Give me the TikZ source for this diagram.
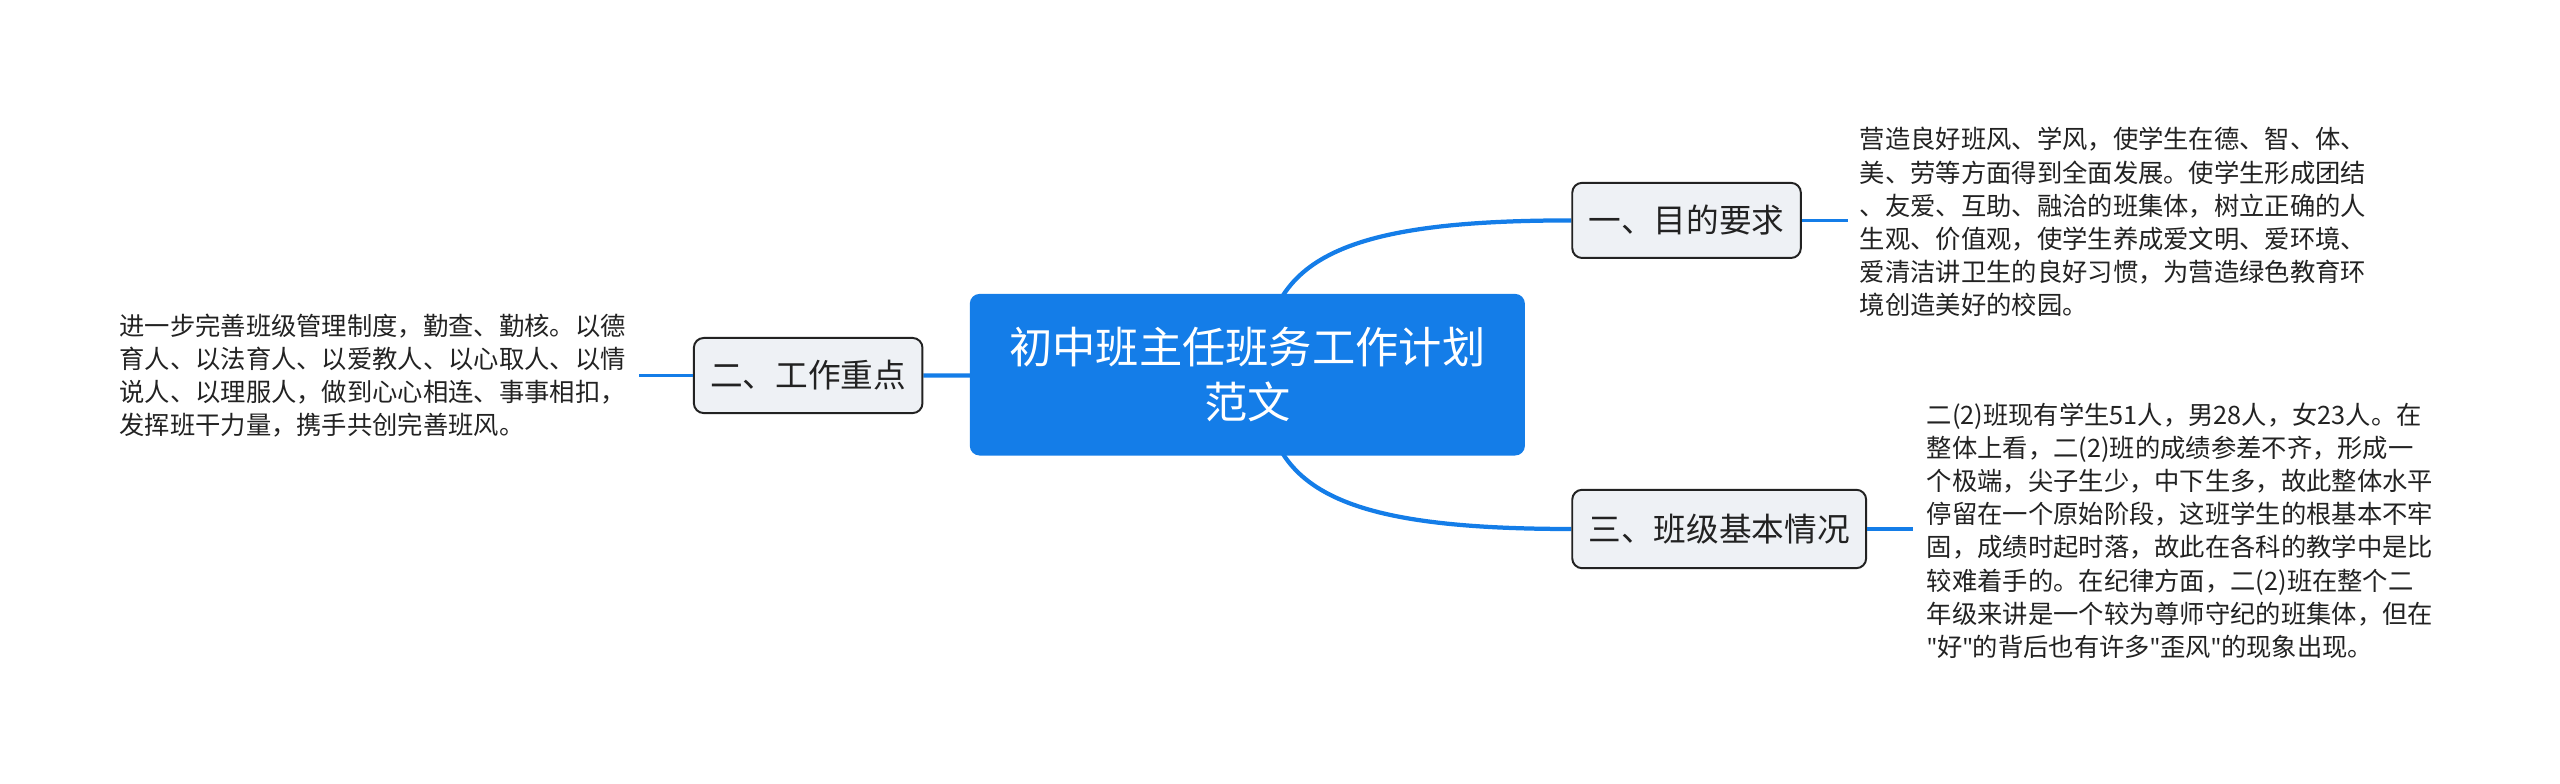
\documentclass[tikz,border=0pt]{standalone}
\usepackage{fontspec}
\setmainfont{Noto Sans CJK SC}
\newfontfamily\quotefont{Noto Sans}
\newcommand{\sq}{{\quotefont\symbol{34}}}
\usetikzlibrary{backgrounds}
\definecolor{mainblue}{RGB}{20,125,232}
\definecolor{boxfill}{RGB}{238,241,245}
\definecolor{txt}{RGB}{34,34,34}
\tikzset{
  centralbox/.style={fill=mainblue, rounded corners=6pt, minimum width=340pt, minimum height=99pt,
    text=white, align=center, inner sep=0pt, font=\fontsize{26.5pt}{34pt}\selectfont},
  branchbox/.style={fill=boxfill, draw=txt, line width=1.2pt, rounded corners=6pt, minimum height=46pt,
    text=txt, inner sep=0pt, font=\fontsize{20pt}{24pt}\selectfont},
  detail/.style={text=txt, align=left, inner sep=0pt, anchor=west, font=\fontsize{15.5pt}{20.3pt}\selectfont},
  mainlink/.style={draw=mainblue, line width=2.6pt},
  sublink/.style={draw=mainblue, line width=2pt},
}
\begin{document}
\begin{tikzpicture}[x=1pt,y=-1pt]
\useasboundingbox (0,0) rectangle (1568,480);
\node[centralbox] (c) at (764,229.5) {初中班主任班务工作计划\\范文};
\node[branchbox, minimum width=140pt] (b1) at (1033,135) {一、目的要求};
\node[branchbox, minimum width=180pt, minimum height=48pt] (b3) at (1053,324) {三、班级基本情况};
\node[branchbox, minimum width=140pt] (b2) at (495,230) {二、工作重点};
\node[detail] (t1) at (1139,136) {营造良好班风、学风，使学生在德、智、体、\\美、劳等方面得到全面发展。使学生形成团结\\、友爱、互助、融洽的班集体，树立正确的人\\生观、价值观，使学生养成爱文明、爱环境、\\爱清洁讲卫生的良好习惯，为营造绿色教育环\\境创造美好的校园。};
\node[detail] (t3) at (1180,325) {二(2)班现有学生51人，男28人，女23人。在\\整体上看，二(2)班的成绩参差不齐，形成一\\个极端，尖子生少，中下生多，故此整体水平\\停留在一个原始阶段，这班学生的根基本不牢\\固，成绩时起时落，故此在各科的教学中是比\\较难着手的。在纪律方面，二(2)班在整个二\\年级来讲是一个较为尊师守纪的班集体，但在\\\sq 好\sq 的背后也有许多\sq 歪风\sq 的现象出现。};
\node[detail] (t2) at (73,230) {进一步完善班级管理制度，勤查、勤核。以德\\育人、以法育人、以爱教人、以心取人、以情\\说人、以理服人，做到心心相连、事事相扣，\\发挥班干力量，携手共创完善班风。};
\begin{scope}[on background layer]
\draw[mainlink] ([xshift=10pt]c.center) .. controls +(0,-70) and +(-143,0) .. (b1.west);
\draw[mainlink] ([xshift=10pt]c.center) .. controls +(0,70) and +(-143,0) .. (b3.west);
\draw[mainlink] (c.center) -- (b2.east);
\end{scope}
\draw[sublink, shorten >=7pt] (b1.east) -- (b1.east -| t1.west);
\draw[sublink, shorten >=8pt] (b3.east) -- (b3.east -| t3.west);
\draw[sublink, shorten >=8pt] (b2.west) -- (b2.west -| t2.east);
\end{tikzpicture}
\end{document}
